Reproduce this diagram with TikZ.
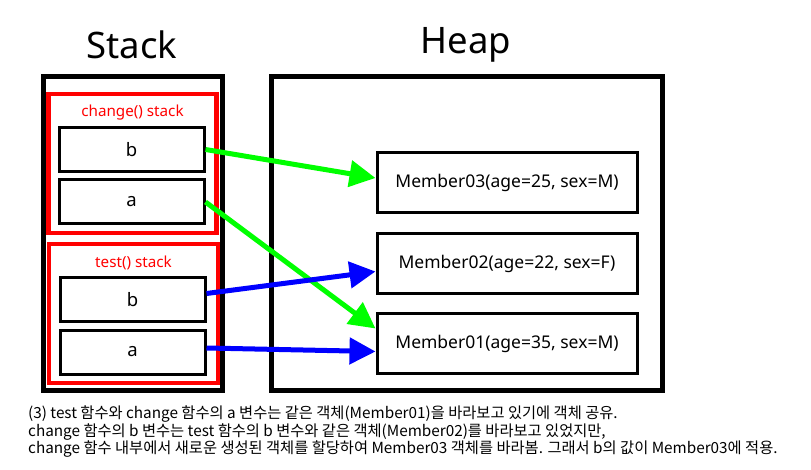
\documentclass[tikz,border=0pt]{standalone}
\usepackage{fontspec}
\setmainfont{Noto Sans}
\newfontfamily\kr{Noto Sans CJK KR}
\usetikzlibrary{arrows.meta}
\definecolor{rgreen}{RGB}{0,255,0}
\definecolor{rblue}{RGB}{0,0,255}
\definecolor{rred}{RGB}{255,0,0}
\begin{document}
\begin{tikzpicture}[x=1pt,y=-1pt,
  outerbox/.style={draw=black,line width=5pt,inner sep=0pt},
  framebox/.style={draw=rred,line width=4.5pt,inner sep=0pt},
  varbox/.style={draw=black,line width=3pt,inner sep=0pt,minimum width=145pt,minimum height=44pt,font=\fontsize{18.5}{20}\selectfont},
  membox/.style={draw=black,line width=3pt,inner sep=0pt,minimum width=260pt,minimum height=60pt,font=\fontsize{17.5}{20}\selectfont},
  title/.style={font=\fontsize{36.5}{40}\selectfont},
  framelabel/.style={text=rred,font=\fontsize{15.2}{16}\selectfont},
  ptr/.style={line width=5pt,-{Triangle[length=26pt,width=26pt]}},
  caption/.style={anchor=west,inner sep=0pt,font=\kr\fontsize{15.3}{17}\selectfont}]
\useasboundingbox (0,0) rectangle (811,470);
\node[title] (stacktitle) at (132,45) {Stack};
\node[title] (heaptitle) at (466,45) {Heap};
\node[outerbox,minimum width=179pt,minimum height=313pt] (stack) at (132.5,233.5) {};
\node[outerbox,minimum width=391pt,minimum height=313pt] (heap) at (466.5,233.5) {};
\node[framebox,minimum width=168pt,minimum height=139pt] (chg) at (132.5,163.5) {};
\node[framebox,minimum width=169pt,minimum height=139pt] (tst) at (133.5,313.5) {};
\node[framelabel] (chglabel) at (132.5,113) {change() stack};
\node[framelabel] (tstlabel) at (133.5,263) {test() stack};
\node[varbox] (cb) at (131.5,149.5) {b};
\node[varbox] (ca) at (131.5,202) {a};
\node[varbox] (tb) at (132.5,299.5) {b};
\node[varbox] (ta) at (132.5,352) {a};
\node[membox] (m3) at (507,183) {Member03(age=25, sex=M)};
\node[membox] (m2) at (507,263.5) {Member02(age=22, sex=F)};
\node[membox] (m1) at (507,343.5) {Member01(age=35, sex=M)};
\draw[ptr,rgreen] (cb.east) -- ([yshift=5pt]m3.west);
\draw[ptr,rgreen] (ca.east) -- ([yshift=15pt]m1.west);
\draw[ptr,rblue] ([yshift=6pt]tb.east) -- ([yshift=-8pt]m2.west);
\draw[ptr,rblue] ([yshift=4pt]ta.east) -- ([yshift=-8pt]m1.west);
\node[caption] (c1) at (28,414) {(3) test 함수와 change 함수의 a 변수는 같은 객체(Member01)을 바라보고 있기에 객체 공유.};
\node[caption] (c2) at (28,432) {change 함수의 b 변수는 test 함수의 b 변수와 같은 객체(Member02)를 바라보고 있었지만,};
\node[caption] (c3) at (28,449.5) {change 함수 내부에서 새로운 생성된 객체를 할당하여 Member03 객체를 바라봄. 그래서 b의 값이 Member03에 적용.};
\end{tikzpicture}
\end{document}
